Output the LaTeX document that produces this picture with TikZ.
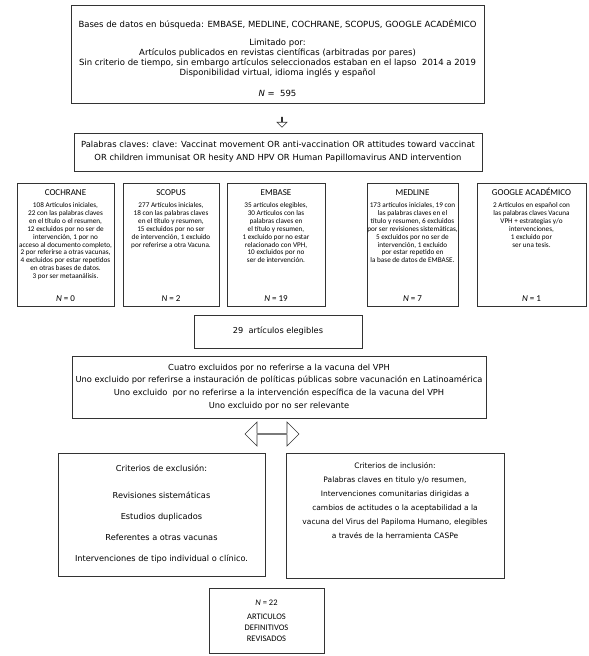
\documentclass[tikz,border=0pt]{standalone}
\usepackage{fontspec}
\setmainfont{DejaVu Sans}
\newfontfamily\dbfont{Carlito}
\usetikzlibrary{shapes.arrows,positioning}
\tikzset{
    box/.style={draw=black!80, line width=0.7pt, align=center, inner sep=0pt},
    dbbox/.style={box, minimum height=123pt},
    dbhead/.style={inner sep=0pt, font=\dbfont\fontsize{9}{10}\selectfont},
    dbtext/.style={align=center, inner sep=0pt, font=\dbfont\fontsize{7.2}{7.85}\selectfont},
    hollow/.style={draw=black!80, line width=0.6pt, inner sep=0pt}
}

\begin{document}
\begin{tikzpicture}[x=1pt,y=-1pt]
\useasboundingbox (0,0) rectangle (589,656);

% busqueda
\node[box, minimum width=413pt, minimum height=98pt] (busqueda) at (277.5,54) {};
\node[align=center, inner sep=0pt, font=\fontsize{8.5}{10}\selectfont, yshift=-4pt] (busqueda text) at (busqueda)
  {Bases de datos en búsqueda: EMBASE, MEDLINE, COCHRANE, SCOPUS, GOOGLE ACADÉMICO\\[8pt]
   Limitado por:\\
   Artículos publicados en revistas científicas (arbitradas por pares)\\
   Sin criterio de tiempo, sin embargo artículos seleccionados estaban en el lapso~ 2014 a 2019\\
   Disponibilidad virtual, idioma inglés y español\\[11pt]
   \textit{N} =~ 595};
\node[hollow, single arrow, shape border rotate=270, minimum height=10pt, minimum width=10pt, single arrow head extend=2.5pt] (flecha) at (282,122) {};

\node[box, minimum width=408pt, minimum height=38pt, font=\fontsize{8.4}{13}\selectfont] (claves) at (278,152)
  {Palabras claves: clave: Vaccinat movement OR anti-vaccination OR attitudes toward vaccinat\\
   OR children immunisat OR hesity AND HPV OR Human Papillomavirus AND intervention};

% bases de datos
\node[dbbox, minimum width=97pt] (cochrane) at (65.5,244.5) {};
\node[dbbox, minimum width=96pt] (scopus) at (171,244.5) {};
\node[dbbox, minimum width=98pt] (embase) at (276,244.5) {};
\node[dbbox, minimum width=91pt] (medline) at (412.5,244.5) {};
\node[dbbox, minimum width=109pt] (google) at (531.5,244.5) {};

\foreach \n/\h in {cochrane/COCHRANE, scopus/SCOPUS, embase/EMBASE, medline/MEDLINE, google/GOOGLE ACADÉMICO}
  \node[dbhead, anchor=base] (\n head) at ([yshift=-13pt]\n.north) {\h};
\foreach \n/\k in {cochrane/0, scopus/2, embase/19, medline/7, google/1}
  \node[dbhead, above=5pt of \n.south] (\n N) {\textit{N} = \k};

\node[dbtext, below=20pt of cochrane.north] (cochrane text)
  {108 Artículos iniciales,\\ 22 con las palabras claves\\ en el título o el resumen,\\
   12 excluidos por no ser de\\ intervención, 1 por no\\ acceso al documento completo,\\
   2 por referirse a otras vacunas,\\ 4 excluidos por estar repetidos\\
   en otras bases de datos.\\ 3 por ser metaanálisis.};
\node[dbtext, below=20pt of scopus.north] (scopus text)
  {277 Artículos iniciales,\\ 18 con las palabras claves\\ en el título y resumen,\\
   15 excluidos por no ser\\ de intervención, 1 excluido\\ por referirse a otra Vacuna.};
\node[dbtext, below=20pt of embase.north] (embase text)
  {35 artículos elegibles,\\ 30 Artículos con las\\ palabras claves en\\ el título y resumen,\\
   1 excluido por no estar\\ relacionado con VPH,\\ 10 excluidos por no\\ ser de intervención.};
\node[dbtext, below=20pt of medline.north] (medline text)
  {173 artículos iniciales, 19 con\\ las palabras claves en el\\ título y resumen, 6 excluidos\\
   por ser revisiones sistemáticas,\\ 5 excluidos por no ser de\\ intervención, 1 excluido\\
   por estar repetido en\\ la base de datos de EMBASE.};
\node[dbtext, below=20pt of google.north] (google text)
  {2 Artículos en español con\\ las palabras claves Vacuna\\ VPH + estrategias y/o\\
   intervenciones,\\ 1 excluido por\\ ser una tesis.};

% seleccion
\node[box, minimum width=168pt, minimum height=33pt, font=\fontsize{8.2}{10}\selectfont] (elegibles) at (278,331.5) {29~ artículos elegibles};

\node[box, minimum width=414pt, minimum height=62pt, font=\fontsize{8.3}{12.7}\selectfont] (excluidos) at (279,387)
  {Cuatro excluidos por no referirse a la vacuna del VPH\\
   Uno excluido por referirse a instauración de políticas públicas sobre vacunación en Latinoamérica\\
   Uno excluido~ por no referirse a la intervención específica de la vacuna del VPH\\
   Uno excluido por no ser relevante};

\node[hollow, double arrow, minimum height=54pt, minimum width=24pt, double arrow head extend=5.5pt] (dflecha) at (272,434) {};

% criterios
\node[box, minimum width=207pt, minimum height=123pt, font=\fontsize{8.2}{21}\selectfont] (exclusion) at (161.5,514.5)
  {Criterios de exclusión:\\[6pt] Revisiones sistemáticas\\ Estudios duplicados\\
   Referentes a otras vacunas\\ Intervenciones de tipo individual o clínico.};
\node[box, minimum width=218pt, minimum height=125pt] (inclusion) at (395,515.5) {};
\node[align=center, inner sep=0pt, font=\fontsize{7.5}{14}\selectfont, below=9.5pt of inclusion.north] (inclusion text)
  {Criterios de inclusión:\\ Palabras claves en titulo y/o resumen,\\ Intervenciones comunitarias dirigidas a\\
   cambios de actitudes o la aceptabilidad a la\\ vacuna del Virus del Papiloma Humano, elegibles\\
   a través de la herramienta CASPe};

\node[box, minimum width=115pt, minimum height=65pt, font=\dbfont\fontsize{8.5}{11}\selectfont] (final) at (266.5,620.5)
  {\textit{N} = 22\\[3pt] ARTICULOS\\ DEFINITIVOS\\ REVISADOS};

\end{tikzpicture}
\end{document}
